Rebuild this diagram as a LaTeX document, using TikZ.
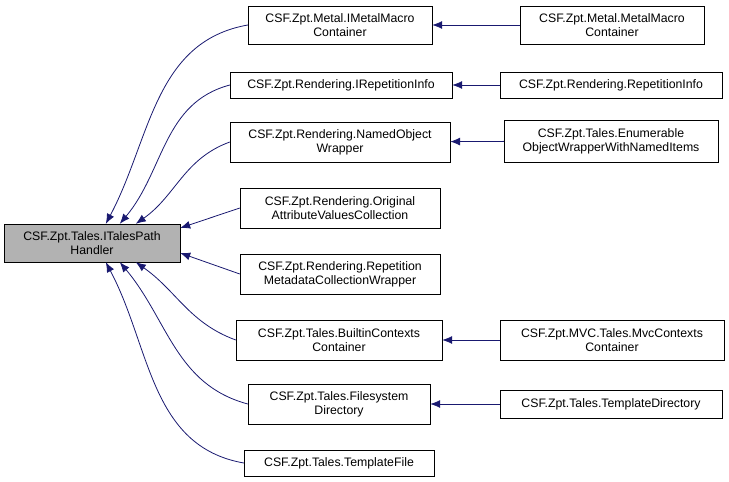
\documentclass[tikz,border=0pt]{standalone}
\usepackage{fontspec}
\setmainfont{Liberation Sans}
\usetikzlibrary{arrows.meta}
\definecolor{edgeblue}{RGB}{25,25,112}
\tikzset{
  ClassBox/.style = {draw, rectangle, fill=white, inner sep=2pt, align=center,
                     font=\fontsize{12.3}{14}\selectfont},
  InheritEdge/.style = {draw=edgeblue, line width=0.8pt, {Latex[length=10pt,width=8pt]}-}
}
\begin{document}
\begin{tikzpicture}[x=1pt,y=-1pt]
  \useasboundingbox (0,0) rectangle (729,482);
  % base class
  \node[ClassBox, fill=black!30, minimum width=176pt, minimum height=38pt] (base) at (92,243) {CSF.Zpt.Tales.ITalesPath\\Handler};
  % derived classes
  \node[ClassBox, minimum width=184pt, minimum height=38pt] (mmc) at (340,25) {CSF.Zpt.Metal.IMetalMacro\\Container};
  \node[ClassBox, minimum width=222pt, minimum height=26pt] (iri) at (341,85) {CSF.Zpt.Rendering.IRepetitionInfo};
  \node[ClassBox, minimum width=220pt, minimum height=40pt] (now) at (340,142) {CSF.Zpt.Rendering.NamedObject\\Wrapper};
  \node[ClassBox, minimum width=200pt, minimum height=40pt] (oavc) at (340,208) {CSF.Zpt.Rendering.Original\\AttributeValuesCollection};
  \node[ClassBox, minimum width=200pt, minimum height=40pt] (rmcw) at (340,274) {CSF.Zpt.Rendering.Repetition\\MetadataCollectionWrapper};
  \node[ClassBox, minimum width=206pt, minimum height=40pt] (bcc) at (339,340) {CSF.Zpt.Tales.BuiltinContexts\\Container};
  \node[ClassBox, minimum width=182pt, minimum height=40pt] (fsd) at (339,404) {CSF.Zpt.Tales.Filesystem\\Directory};
  \node[ClassBox, minimum width=190pt, minimum height=26pt] (tf) at (339,463) {CSF.Zpt.Tales.TemplateFile};
  % second level
  \node[ClassBox, minimum width=184pt, minimum height=38pt] (metal) at (612,25) {CSF.Zpt.Metal.MetalMacro\\Container};
  \node[ClassBox, minimum width=222pt, minimum height=26pt] (ri) at (611,85) {CSF.Zpt.Rendering.RepetitionInfo};
  \node[ClassBox, minimum width=214pt, minimum height=42pt] (eow) at (611,141) {CSF.Zpt.Tales.Enumerable\\ObjectWrapperWithNamedItems};
  \node[ClassBox, minimum width=224pt, minimum height=40pt] (mvc) at (612,340) {CSF.Zpt.MVC.Tales.MvcContexts\\Container};
  \node[ClassBox, minimum width=222pt, minimum height=28pt] (td) at (611,404) {CSF.Zpt.Tales.TemplateDirectory};
  % edges
  \draw[InheritEdge] (base.north west) ++(102,0) to[out=62,in=190] (mmc.west);
  \draw[InheritEdge] (base.north west) ++(116,0) to[out=50,in=195] (iri.west);
  \draw[InheritEdge] (base.north west) ++(132,0) to[out=35,in=200] (now.west);
  \draw[InheritEdge] (base.east) ++(0,-15) -- (oavc.west);
  \draw[InheritEdge] (base.east) ++(0,10) -- (rmcw.west);
  \draw[InheritEdge] (base.south west) ++(132,0) to[out=-35,in=160] (bcc.west);
  \draw[InheritEdge] (base.south west) ++(116,0) to[out=-50,in=165] (fsd.west);
  \draw[InheritEdge] (base.south west) ++(102,0) to[out=-62,in=170] (tf.west);
  \draw[InheritEdge] (mmc) -- (metal);
  \draw[InheritEdge] (iri) -- (ri);
  \draw[InheritEdge] (now) -- (eow);
  \draw[InheritEdge] (bcc) -- (mvc);
  \draw[InheritEdge] (fsd) -- (td);
\end{tikzpicture}
\end{document}
